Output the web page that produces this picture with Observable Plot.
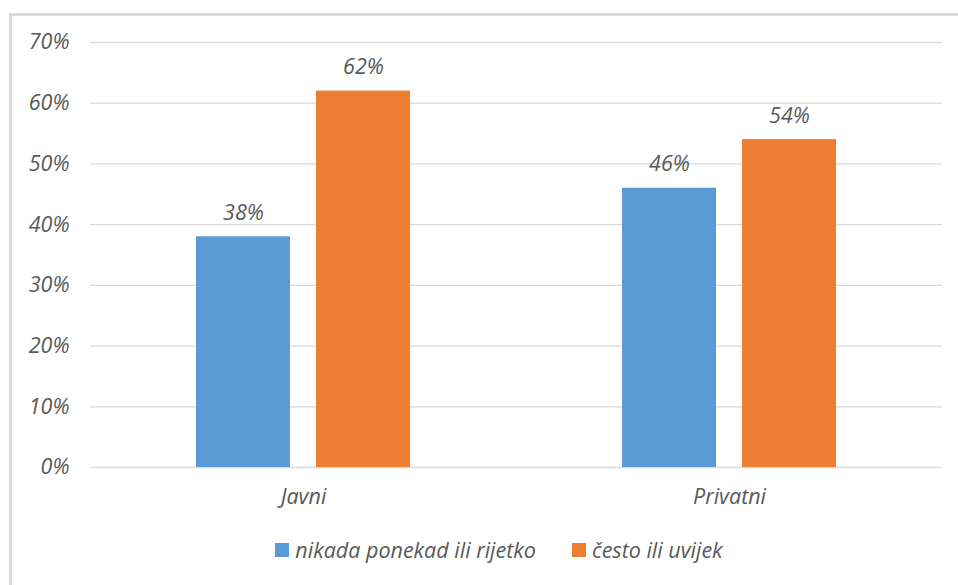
<!DOCTYPE html>
<html>
<head>
<meta charset="utf-8">
<script src="https://cdn.jsdelivr.net/npm/d3@7"></script>
<script src="https://cdn.jsdelivr.net/npm/@observablehq/plot@0.6"></script>
<style>
  html, body { margin: 0; padding: 0; background: #fff; width: 958px; height: 585px; overflow: hidden; }
  #frame { position: absolute; left: 9px; top: 13px; width: 980px; height: 600px; border-left: 3px solid #d9d9d9; border-top: 3px solid #d9d9d9; box-sizing: border-box; }
  #chart { position: absolute; left: 0; top: 0; }
  #legend { position: absolute; top: 535px; left: 20px; width: 958px; display: flex; justify-content: center; font-family: "Open Sans", Lato, sans-serif; font-style: italic; font-size: 21.5px; color: #595959; }
  .item { display: flex; align-items: center; margin: 0 18px; }
  .sw { width: 14px; height: 14px; margin-right: 6px; }
</style>
</head>
<body>
<div id="frame"></div>
<div id="chart"></div>
<div id="legend"></div>
<script>
const categories = ["Javni", "Privatni"];
const series = ["nikada ponekad ili rijetko", "često ili uvijek"];
const nikada = [0.38, 0.46];
const cesto = [0.62, 0.54];
const colors = ["#5B9BD5", "#ED7D31"];
const yTicks = [0, 0.1, 0.2, 0.3, 0.4, 0.5, 0.6, 0.7];

const data = [];
categories.forEach((c, i) => {
  data.push({cat: c, s: series[0], v: nikada[i]});
  data.push({cat: c, s: series[1], v: cesto[i]});
});

const font = "'Open Sans', Lato, sans-serif";
const fs = 21.5;
const plot = Plot.plot({
  width: 958,
  height: 530,
  marginLeft: 90,
  marginRight: 16,
  marginTop: 42,
  marginBottom: 63,
  style: {fontFamily: font, fontStyle: "italic", fontSize: fs + "px", color: "#595959", background: "transparent", overflow: "visible"},
  fx: {domain: categories, padding: 0, label: null},
  x: {domain: series, paddingInner: 0.215, paddingOuter: 0.868, axis: null},
  y: {domain: [0, 0.7], label: null},
  color: {domain: series, range: colors},
  marks: [
    Plot.gridY(yTicks, {stroke: "#d9d9d9", strokeOpacity: 1, strokeWidth: 1.3}),
    Plot.axisY({ticks: yTicks, tickFormat: d3.format(".0%"), tickSize: 0, tickPadding: 21, fontSize: fs, fill: "#595959", label: null}),
    Plot.axisFx({anchor: "bottom", tickSize: 0, tickPadding: 21, fontSize: fs, fill: "#595959", label: null}),
    Plot.barY(data, {fx: "cat", x: "s", y: "v", fill: "s"}),
    Plot.text(data, {fx: "cat", x: "s", y: "v", text: d => d3.format(".0%")(d.v), dy: -24, fontSize: fs, fill: "#595959"})
  ]
});
document.getElementById("chart").appendChild(plot);

const legend = document.getElementById("legend");
series.forEach((s, i) => {
  const it = document.createElement("div");
  it.className = "item";
  const sw = document.createElement("div");
  sw.className = "sw";
  sw.style.background = colors[i];
  const t = document.createElement("span");
  t.textContent = s;
  it.appendChild(sw);
  it.appendChild(t);
  legend.appendChild(it);
});
</script>
</body>
</html>
